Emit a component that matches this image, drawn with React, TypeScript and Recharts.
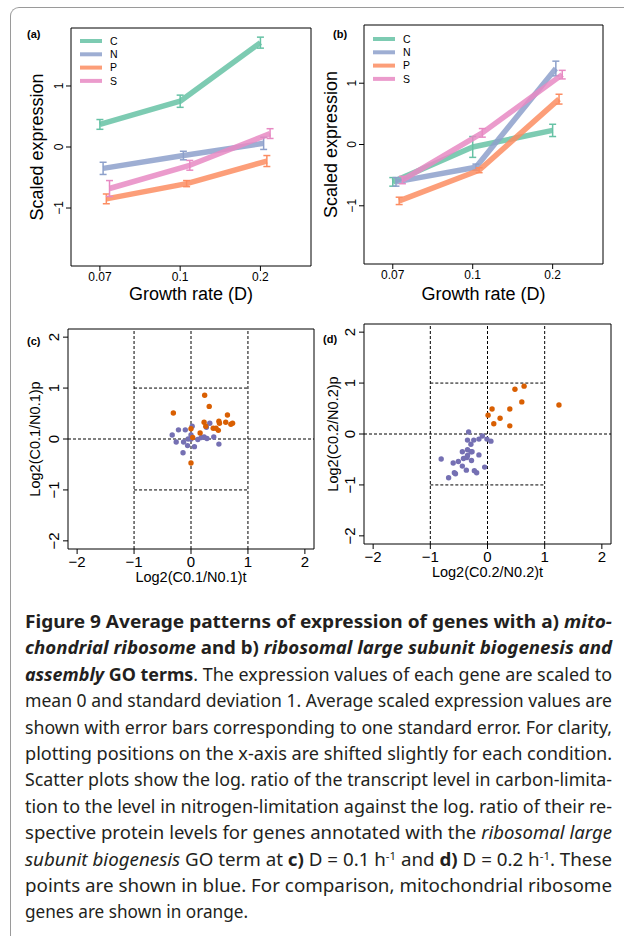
import React from 'react';
import {
  LineChart, Line, ScatterChart, Scatter, XAxis, YAxis, ErrorBar,
  ReferenceArea, ReferenceLine, Legend, Label,
} from 'recharts';

const FONT = '"Liberation Sans", Arial, Helvetica, sans-serif';
const CAPTION_FONT = '"Noto Sans", "Open Sans", sans-serif';

const rates = ['0.07', '0.1', '0.2'];
const conditions = ['C', 'N', 'P', 'S'];
const condColors = ['#66C2A5', '#8DA0CB', '#FC8D62', '#E78AC3'];

// (a) mitochondrial ribosome: mean scaled expression and standard error per condition
const meanA = [
  [0.37, 0.75, 1.71],
  [-0.35, -0.14, 0.06],
  [-0.85, -0.6, -0.23],
  [-0.68, -0.3, 0.22],
];
const seA = [
  [0.08, 0.1, 0.09],
  [0.1, 0.07, 0.1],
  [0.08, 0.05, 0.09],
  [0.13, 0.08, 0.08],
];

// (b) ribosomal large subunit biogenesis
const meanB = [
  [-0.61, -0.04, 0.23],
  [-0.61, -0.37, 1.24],
  [-0.92, -0.42, 0.74],
  [-0.58, 0.19, 1.14],
];
const seB = [
  [0.07, 0.17, 0.1],
  [0.07, 0.05, 0.12],
  [0.06, 0.04, 0.08],
  [0.06, 0.07, 0.07],
];

// conditions are nudged sideways a little so the error bars don't sit on top of each other
const xShift = [0, 0.04, 0.08, 0.12];

// scatter plots, [log2 transcript ratio, log2 protein ratio]
const cBlue = [
  [-0.33, 0.08], [-0.22, 0.18], [-0.1, 0.18], [0.02, 0.25], [0.33, 0.31],
  [0.0, 0.08], [-0.05, 0.0], [-0.26, -0.06], [-0.13, -0.06], [-0.06, -0.13],
  [0.06, -0.15], [-0.14, -0.27], [0.12, -0.01], [0.18, 0.03], [0.23, 0.04],
  [0.28, 0.01], [0.4, 0.04], [0.49, -0.1], [0.27, 0.23], [0.0, 0.0],
];
const cOrange = [
  [-0.31, 0.51], [0.24, 0.86], [0.32, 0.64], [0.64, 0.47], [0.23, 0.33],
  [0.26, 0.25], [0.49, 0.35], [0.5, 0.31], [0.61, 0.33], [0.7, 0.29],
  [0.73, 0.31], [0.39, 0.21], [0.44, 0.21], [0.48, 0.17], [0.0, 0.2],
  [0.16, 0.12], [0.03, 0.03], [0.0, -0.47],
];
const dBlue = [
  [-0.33, 0.04], [-0.35, -0.12], [-0.24, -0.12], [-0.29, -0.2], [-0.15, -0.1],
  [-0.09, -0.04], [-0.01, -0.1], [0.06, -0.14], [-0.35, -0.31], [-0.29, -0.35],
  [-0.27, -0.35], [-0.44, -0.35], [-0.42, -0.48], [-0.35, -0.42], [-0.36, -0.46],
  [-0.15, -0.41], [-0.51, -0.54], [-0.28, -0.52], [-0.81, -0.49], [-0.6, -0.57],
  [-0.44, -0.63], [-0.37, -0.71], [-0.23, -0.72], [-0.19, -0.76], [-0.05, -0.65],
  [-0.58, -0.76], [-0.56, -0.78], [-0.68, -0.86],
];
const dOrange = [
  [0.48, 0.88], [0.64, 0.94], [0.6, 0.63], [1.25, 0.57], [0.08, 0.49],
  [0.39, 0.49], [0.01, 0.37], [0.22, 0.31], [0.11, 0.2], [0.39, 0.16],
];

const scatterTicks = [-2, -1, 0, 1, 2];
const guides = [-1, 0, 1];
const BLUE = '#7570B3';
const ORANGE = '#D95F02';

const fmtNum = (v: number) => (v < 0 ? '\u2212' + Math.abs(v) : String(v));

const yTick = (fs: number) => (p: any) => (
  <text
    transform={`translate(${p.x} ${p.y}) rotate(-90)`}
    textAnchor="middle"
    fontSize={fs}
    fontFamily={FONT}
    fill="#000"
  >
    {fmtNum(p.payload.value)}
  </text>
);

type Frame = {
  left: number; top: number; width: number; height: number;
  x0: number; x1: number; y0: number; y1: number;
};

const frameA: Frame = { left: 0, top: 0, width: 315, height: 305, x0: 71, x1: 311, y0: 28, y1: 266 };
const frameB: Frame = { left: 315, top: 0, width: 309, height: 305, x0: 49, x1: 288, y0: 25, y1: 264 };
const frameC: Frame = { left: 0, top: 310, width: 320, height: 280, x0: 68, x1: 314, y0: 19, y1: 239 };
const frameD: Frame = { left: 315, top: 310, width: 309, height: 280, x0: 49, x1: 296, y0: 14, y1: 234 };

function LinePanel({ frame, means, ses, tag, tagX, yTitleX, legendLeft, legendTop }: any) {
  const { width, height, x0, x1, y0, y1 } = frame as Frame;
  const series = conditions.map((name, k) => ({
    name,
    color: condColors[k],
    data: means[k].map((y: number, i: number) => ({ x: i + 1 + xShift[k], y, se: ses[k][i] })),
  }));
  const midX = (x0 + x1) / 2;
  const midY = (y0 + y1) / 2;

  return (
    <div style={{ position: 'absolute', left: frame.left, top: frame.top }}>
      <LineChart width={width} height={height} margin={{ top: y0, right: width - x1, bottom: 0, left: 0 }}>
        <XAxis
          type="number"
          dataKey="x"
          domain={[0.64, 3.63]}
          allowDataOverflow
          ticks={[1, 2, 3]}
          height={height - y1}
          axisLine={false}
          tickSize={5}
          tickMargin={2}
          tickLine={{ stroke: '#000' }}
          tick={(p: any) => (
            <text x={p.x} y={p.y} dy={8} textAnchor="middle" fontSize={12} fontFamily={FONT} fill="#000">
              {rates[p.payload.value - 1]}
            </text>
          )}
        >
          <Label
            content={() => (
              <text x={midX} y={299.5} textAnchor="middle" fontSize={18} fontFamily={FONT} fill="#000">
                Growth rate (D)
              </text>
            )}
          />
        </XAxis>
        <YAxis
          type="number"
          domain={[-1.95, 1.95]}
          allowDataOverflow
          ticks={[-1, 0, 1]}
          width={x0}
          axisLine={false}
          tickSize={5}
          tickMargin={3}
          tickLine={{ stroke: '#000' }}
          tick={yTick(12)}
        >
          <Label
            content={() => (
              <g>
                <text
                  transform={`translate(${yTitleX} ${midY}) rotate(-90)`}
                  textAnchor="middle"
                  fontSize={18}
                  fontFamily={FONT}
                  fill="#000"
                >
                  Scaled expression
                </text>
                <text x={tagX} y={38} fontSize={11} fontWeight="bold" fontFamily={FONT} fill="#000">
                  {tag}
                </text>
              </g>
            )}
          />
        </YAxis>
        <ReferenceArea x1={0.64} x2={3.63} y1={-1.95} y2={1.95} fill="none" stroke="#000" strokeWidth={1} />
        {series.map((s) => (
          <Line
            key={s.name}
            name={s.name}
            data={s.data}
            dataKey="y"
            stroke={s.color}
            strokeOpacity={0.85}
            strokeWidth={5.5}
            strokeLinejoin="round"
            dot={false}
            activeDot={false}
            isAnimationActive={false}
          >
            <ErrorBar dataKey="se" direction="y" width={3.5} stroke={s.color} strokeWidth={1.5} isAnimationActive={false} />
          </Line>
        ))}
        <Legend
          layout="vertical"
          align="center"
          verticalAlign="middle"
          wrapperStyle={{ left: legendLeft, top: legendTop, width: 50, height: 56 }}
          content={() => (
            <svg width={50} height={56}>
              {series.map((s, k) => (
                <g key={s.name}>
                  <line x1={0} x2={22} y1={7 + k * 13.3} y2={7 + k * 13.3} stroke={s.color} strokeOpacity={0.85} strokeWidth={4} />
                  <text x={30} y={7 + k * 13.3} dy={3.8} fontSize={10.5} fontFamily={FONT} fill="#000">
                    {s.name}
                  </text>
                </g>
              ))}
            </svg>
          )}
        />
      </LineChart>
    </div>
  );
}

function ScatterPanel({ frame, blue, orange, tag, tagX, tagY, yTitleX, xTitleY, xLabel, yLabel }: any) {
  const { width, height, x0, x1, y0, y1 } = frame as Frame;
  const toPts = (arr: number[][]) => arr.map(([t, p]) => ({ t, p }));
  const midX = (x0 + x1) / 2;
  const midY = (y0 + y1) / 2;
  const dot = (color: string) => (p: any) => <circle cx={p.cx} cy={p.cy} r={2.7} fill={color} />;
  const dash = { stroke: '#000', strokeWidth: 1, strokeDasharray: '3 2' };

  return (
    <div style={{ position: 'absolute', left: frame.left, top: frame.top }}>
      <ScatterChart width={width} height={height} margin={{ top: y0, right: width - x1, bottom: 0, left: 0 }}>
        <XAxis
          type="number"
          dataKey="t"
          domain={[-2.16, 2.16]}
          allowDataOverflow
          ticks={scatterTicks}
          height={height - y1}
          axisLine={false}
          tickSize={5}
          tickMargin={2}
          tickLine={{ stroke: '#000' }}
          tick={(p: any) => (
            <text x={p.x} y={p.y} dy={10.5} textAnchor="middle" fontSize={15} fontFamily={FONT} fill="#000">
              {fmtNum(p.payload.value)}
            </text>
          )}
        >
          <Label
            content={() => (
              <text x={midX} y={xTitleY} textAnchor="middle" fontSize={14.5} fontFamily={FONT} fill="#000">
                {xLabel}
              </text>
            )}
          />
        </XAxis>
        <YAxis
          type="number"
          dataKey="p"
          domain={[-2.16, 2.16]}
          allowDataOverflow
          ticks={scatterTicks}
          width={x0}
          axisLine={false}
          tickSize={5}
          tickMargin={4.5}
          tickLine={{ stroke: '#000' }}
          tick={yTick(15)}
        >
          <Label
            content={() => (
              <g>
                <text
                  transform={`translate(${yTitleX} ${midY}) rotate(-90)`}
                  textAnchor="middle"
                  fontSize={14.5}
                  fontFamily={FONT}
                  fill="#000"
                >
                  {yLabel}
                </text>
                <text x={tagX} y={tagY} fontSize={11} fontWeight="bold" fontFamily={FONT} fill="#000">
                  {tag}
                </text>
              </g>
            )}
          />
        </YAxis>
        {guides.map((g) => (
          <ReferenceLine key={'v' + g} x={g} {...dash} />
        ))}
        <ReferenceLine y={0} {...dash} />
        <ReferenceLine segment={[{ x: -1, y: 1 }, { x: 1, y: 1 }]} {...dash} />
        <ReferenceLine segment={[{ x: -1, y: -1 }, { x: 1, y: -1 }]} {...dash} />
        <ReferenceArea x1={-2.16} x2={2.16} y1={-2.16} y2={2.16} fill="none" stroke="#000" strokeWidth={1} />
        <Scatter data={toPts(blue)} fill={BLUE} shape={dot(BLUE)} isAnimationActive={false} />
        <Scatter data={toPts(orange)} fill={ORANGE} shape={dot(ORANGE)} isAnimationActive={false} />
      </ScatterChart>
    </div>
  );
}

const B = ({ children }: any) => <tspan fontWeight="bold">{children}</tspan>;
const I = ({ children }: any) => <tspan fontStyle="italic">{children}</tspan>;
const BI = ({ children }: any) => <tspan fontWeight="bold" fontStyle="italic">{children}</tspan>;

const captionLines: React.ReactNode[] = [
  <><B>Figure 9 Average patterns of expression of genes with a) </B><BI>mito-</BI></>,
  <><BI>chondrial ribosome</BI><B> and b) </B><BI>ribosomal large subunit biogenesis and</BI></>,
  <><BI>assembly</BI><B> GO terms</B>. The expression values of each gene are scaled to</>,
  <>mean 0 and standard deviation 1. Average scaled expression values are</>,
  <>shown with error bars corresponding to one standard error. For clarity,</>,
  <>plotting positions on the x-axis are shifted slightly for each condition.</>,
  <>Scatter plots show the log. ratio of the transcript level in carbon-limita-</>,
  <>tion to the level in nitrogen-limitation against the log. ratio of their re-</>,
  <>spective protein levels for genes annotated with the <I>ribosomal large</I></>,
  <>
    <I>subunit biogenesis</I> GO term at <B>c)</B> D = 0.1 h<tspan dy={-6} fontSize={11}>-1</tspan>
    <tspan dy={6}> and </tspan><B>d)</B> D = 0.2 h<tspan dy={-6} fontSize={11}>-1</tspan>
    <tspan dy={6}>. These</tspan>
  </>,
  <>points are shown in blue. For comparison, mitochondrial ribosome</>,
  <>genes are shown in orange.</>,
];

function Caption() {
  return (
    <svg width={624} height={340} style={{ position: 'absolute', left: 0, top: 590 }}>
      {captionLines.map((line, i) => {
        const last = i === captionLines.length - 1;
        return (
          <text
            key={i}
            x={25}
            y={38 + i * 26.4}
            fontSize={18}
            fontFamily={CAPTION_FONT}
            fill="#231f20"
            textLength={last ? 223 : 587}
            lengthAdjust="spacingAndGlyphs"
          >
            {line}
          </text>
        );
      })}
    </svg>
  );
}

export default function App() {
  return (
    <div style={{ position: 'absolute', left: 0, top: 0, width: 624, height: 939, background: '#fff', overflow: 'hidden' }}>
      <div
        style={{
          position: 'absolute', left: 10, top: 7, width: 614, height: 928,
          borderTop: '1.5px solid #9a9a9a', borderLeft: '1.5px solid #9a9a9a', borderTopLeftRadius: 9,
        }}
      />
      <LinePanel frame={frameA} means={meanA} ses={seA} tag="(a)" tagX={27} yTitleX={43} legendLeft={80} legendTop={34} />
      <LinePanel frame={frameB} means={meanB} ses={seB} tag="(b)" tagX={18} yTitleX={21.5} legendLeft={58} legendTop={32} />
      <ScatterPanel
        frame={frameC} blue={cBlue} orange={cOrange} tag="(c)" tagX={27} tagY={35}
        yTitleX={40} xTitleY={272} xLabel="Log2(C0.1/N0.1)t" yLabel="Log2(C0.1/N0.1)p"
      />
      <ScatterPanel
        frame={frameD} blue={dBlue} orange={dOrange} tag="(d)" tagX={8} tagY={33}
        yTitleX={22.5} xTitleY={267} xLabel="Log2(C0.2/N0.2)t" yLabel="Log2(C0.2/N0.2)p"
      />
      <Caption />
    </div>
  );
}
